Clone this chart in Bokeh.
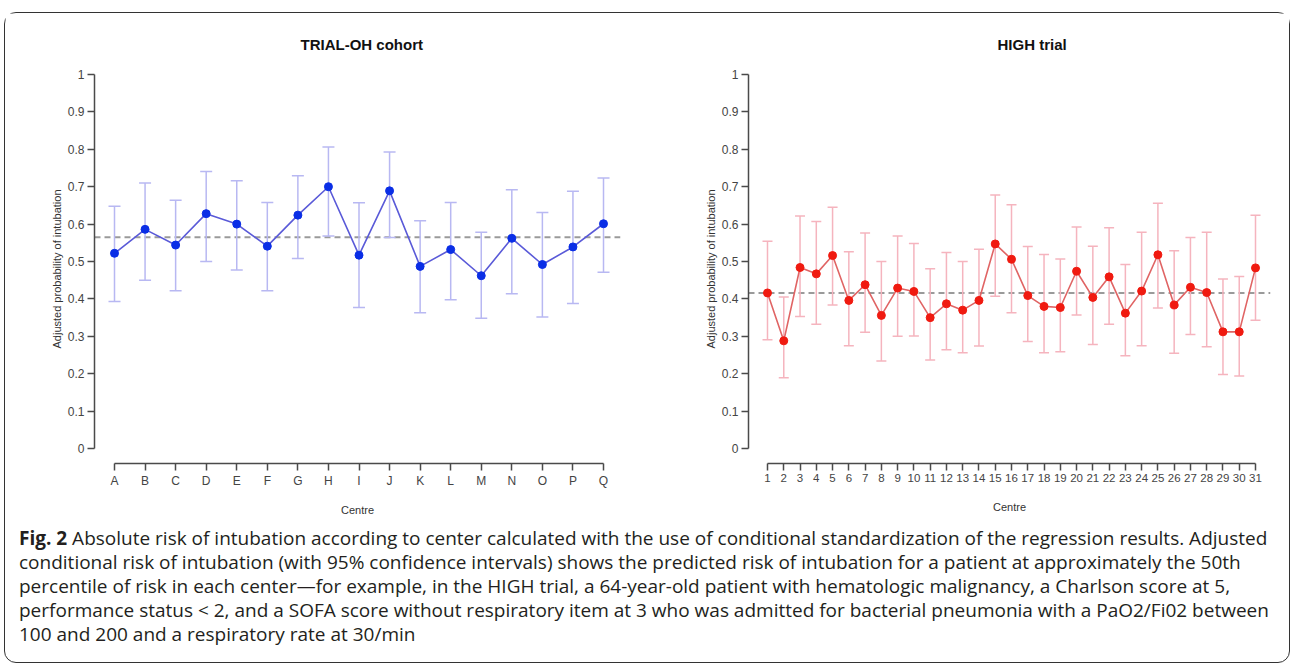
from bokeh.plotting import figure
from bokeh.models import (ColumnDataSource, Whisker, TeeHead, Span, Range1d,
                          FixedTicker, NumeralTickFormatter, Div)
from bokeh.layouts import row, column
from bokeh.embed import file_html
from bokeh.resources import INLINE

# ---------------- data ----------------
left_title = "TRIAL-OH cohort"
left_centres = list("ABCDEFGHIJKLMNOPQ")
left_est = [0.522, 0.586, 0.544, 0.628, 0.600, 0.541, 0.624, 0.700, 0.517,
            0.689, 0.487, 0.532, 0.462, 0.562, 0.492, 0.539, 0.601]
left_lo = [0.393, 0.450, 0.422, 0.500, 0.477, 0.422, 0.508, 0.568, 0.377,
           0.564, 0.363, 0.398, 0.348, 0.414, 0.352, 0.388, 0.471]
left_hi = [0.648, 0.710, 0.664, 0.741, 0.716, 0.658, 0.729, 0.806, 0.657,
           0.793, 0.609, 0.658, 0.578, 0.692, 0.631, 0.688, 0.723]
left_overall = 0.565

right_title = "HIGH trial"
right_centres = [str(i) for i in range(1, 32)]
right_est = [0.416, 0.288, 0.484, 0.467, 0.516, 0.396, 0.438, 0.356, 0.429,
             0.420, 0.350, 0.387, 0.370, 0.396, 0.547, 0.506, 0.409, 0.380,
             0.377, 0.474, 0.404, 0.459, 0.362, 0.421, 0.518, 0.384, 0.431,
             0.417, 0.312, 0.312, 0.483]
right_lo = [0.291, 0.189, 0.353, 0.332, 0.384, 0.275, 0.311, 0.234, 0.300,
            0.301, 0.237, 0.264, 0.256, 0.274, 0.407, 0.363, 0.286, 0.256,
            0.259, 0.357, 0.278, 0.332, 0.248, 0.275, 0.376, 0.255, 0.305,
            0.272, 0.198, 0.194, 0.343]
right_hi = [0.554, 0.405, 0.622, 0.607, 0.645, 0.526, 0.576, 0.500, 0.568,
            0.548, 0.481, 0.524, 0.500, 0.533, 0.678, 0.652, 0.540, 0.519,
            0.507, 0.592, 0.541, 0.590, 0.492, 0.578, 0.656, 0.529, 0.564,
            0.578, 0.453, 0.460, 0.624]
right_overall = 0.416

y_ticks = [0, 0.1, 0.2, 0.3, 0.4, 0.5, 0.6, 0.7, 0.8, 0.9, 1.0]
y_title = "Adjusted probability of intubation"
x_title = "Centre"

caption_lines = [
    "<b>Fig. 2</b> Absolute risk of intubation according to center calculated with the use of conditional standardization of the regression results. Adjusted",
    "conditional risk of intubation (with 95% confidence intervals) shows the predicted risk of intubation for a patient at approximately the 50th",
    "percentile of risk in each center\u2014for example, in the HIGH trial, a 64-year-old patient with hematologic malignancy, a Charlson score at 5,",
    "performance status &lt; 2, and a SOFA score without respiratory item at 3 who was admitted for bacterial pneumonia with a PaO2/Fi02 between",
    "100 and 200 and a respiratory rate at 30/min",
]

FONT = "Liberation Sans"
AXIS_COL = "#4a4a4a"
FIG_H = 513
MB_TOP = 60
MB_BOTTOM = 63


def make_panel(title, centres, est, lo, hi, overall, width, mb_left, mb_right,
               x_range, point_col, line_col, bar_col, cap_size, title_offset,
               label_standoff, xlab_size):
    n = len(centres)
    xs = list(range(1, n + 1))
    src = ColumnDataSource(dict(x=xs, est=est, lo=lo, hi=hi))
    p = figure(width=width, height=FIG_H, output_backend="svg",
               toolbar_location=None, tools="",
               x_range=Range1d(*x_range), y_range=Range1d(-0.04, 1.0),
               min_border_left=mb_left, min_border_right=mb_right,
               min_border_top=MB_TOP, min_border_bottom=MB_BOTTOM)
    p.outline_line_color = None
    p.grid.visible = False
    p.background_fill_color = "white"
    p.border_fill_color = "white"

    p.title.text = title
    p.title.align = "left"
    p.title.offset = title_offset
    p.title.vertical_align = "middle"
    p.title.text_font = FONT
    p.title.text_font_size = "15px"
    p.title.text_font_style = "bold"
    p.title.text_color = "#111111"
    p.title.standoff = 42

    # overall reference line
    p.add_layout(Span(location=overall, dimension="width", line_color="#9a9a9a",
                      line_dash="6 4", line_width=2, level="underlay"))

    wk = Whisker(base="x", lower="lo", upper="hi", source=src,
                 line_color=bar_col, line_width=1.5, level="underlay",
                 upper_head=TeeHead(size=cap_size, line_color=bar_col, line_width=1.5),
                 lower_head=TeeHead(size=cap_size, line_color=bar_col, line_width=1.5))
    p.add_layout(wk)

    p.line("x", "est", source=src, line_color=line_col, line_width=1.6)
    p.scatter("x", "est", source=src, size=8, fill_color=point_col,
              line_color=point_col)

    xa = p.xaxis[0]
    xa.ticker = FixedTicker(ticks=xs)
    xa.major_label_overrides = {x: c for x, c in zip(xs, centres)}
    xa.bounds = (1, n)
    xa.axis_label = x_title
    xa.axis_label_standoff = label_standoff

    ya = p.yaxis[0]
    ya.ticker = FixedTicker(ticks=y_ticks)
    ya.formatter = NumeralTickFormatter(format="0.[0]")
    ya.bounds = (0, 1)
    ya.axis_label = y_title
    ya.axis_label_standoff = 2

    for ax in (xa, ya):
        ax.axis_line_color = AXIS_COL
        ax.axis_line_width = 1.5
        ax.major_tick_line_color = AXIS_COL
        ax.major_tick_line_width = 1.5
        ax.major_tick_in = 0
        ax.major_tick_out = 7
        ax.minor_tick_line_color = None
        ax.major_label_text_font = FONT
        ax.major_label_text_font_size = "12px"
        ax.major_label_text_color = "#444444"
        ax.major_label_standoff = 3
        ax.axis_label_text_font = FONT
        ax.axis_label_text_font_size = "11px"
        ax.axis_label_text_font_style = "normal"
        ax.axis_label_text_color = "#333333"
    xa.major_label_text_font_size = xlab_size
    return p


# left: frame x 94..620 ; right: frame x 748..1270 ; both y 73..463
p_left = make_panel(left_title, left_centres, left_est, left_lo, left_hi,
                    left_overall, width=657, mb_left=89, mb_right=42,
                    x_range=(0.3456, 17.556), point_col="#0a2ee6",
                    line_col="#5a5ad8", bar_col="#b8b8f2", cap_size=12,
                    title_offset=206, label_standoff=13, xlab_size="12px")

p_right = make_panel(right_title, right_centres, right_est, right_lo, right_hi,
                     right_overall, width=627, mb_left=86, mb_right=19,
                     x_range=(-0.168, 31.922), point_col="#f01a10",
                     line_col="#e06464", bar_col="#f5b4be", cap_size=10,
                     title_offset=249, label_standoff=16, xlab_size="11.5px")

caption = Div(
    text="<br>".join(caption_lines),
    width=1270, height=136, margin=(0, 0, 0, 0),
    styles={"font-family": "Open Sans", "font-size": "19px",
            "line-height": "24px", "padding-left": "14px",
            "white-space": "nowrap", "color": "#231f20"},
)

layout = column(row(p_left, p_right), caption, margin=(12, 0, 0, 4),
                styles={"border": "1.5px solid #333333", "border-radius": "12px",
                        "background-color": "white"})

open("out.html", "w").write(file_html(layout, INLINE))
